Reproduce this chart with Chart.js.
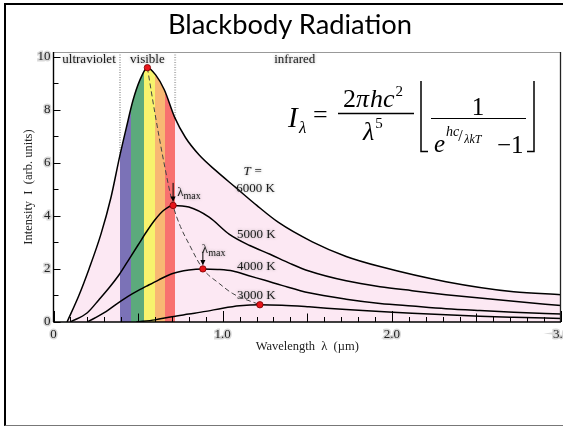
<!DOCTYPE html>
<html><head><meta charset="utf-8">
<script src="https://cdn.jsdelivr.net/npm/chart.js@4.4.0/dist/chart.umd.min.js"></script>
<style>
html,body{margin:0;padding:0;width:563px;height:426px;overflow:hidden;background:#fff;}
#c{position:absolute;left:0;top:0;z-index:1;}
#frame{position:absolute;left:4px;top:3px;width:620px;height:420px;border-left:2px solid #000;border-top:2px solid #000;border-bottom:1px solid #777;pointer-events:none;z-index:2;}
#title{position:absolute;left:0;width:580px;text-align:center;top:10px;font-family:Lato,"Open Sans",sans-serif;font-size:28px;line-height:1;color:#000;z-index:3;white-space:nowrap;}
</style></head><body>
<div id="title">Blackbody Radiation</div>
<canvas id="c" width="600" height="426"></canvas>
<div id="frame"></div>
<script>
// ---------- data ----------
const wavelength6000 = [0.08, 0.15, 0.21, 0.28, 0.34, 0.39, 0.43, 0.47, 0.51, 0.555, 0.605, 0.655, 0.717, 0.78, 0.86, 0.96, 1.08, 1.20, 1.33, 1.53, 1.73, 1.93, 2.32, 2.72, 3.0];
const intensity6000  = [0.0, 1.0, 2.0, 3.3, 4.7, 6.2, 7.3, 8.35, 9.1, 9.58, 9.3, 8.75, 7.7, 6.95, 6.3, 5.7, 5.05, 4.4, 3.75, 3.02, 2.47, 2.09, 1.52, 1.14, 1.03];

const wavelength5000 = [0.10, 0.20, 0.27, 0.33, 0.39, 0.45, 0.50, 0.55, 0.60, 0.65, 0.707, 0.80, 0.92, 1.04, 1.16, 1.28, 1.40, 1.51, 1.73, 1.93, 2.12, 2.32, 2.52, 2.72, 3.0];
const intensity5000  = [0.0, 0.35, 0.85, 1.3, 1.8, 2.4, 2.9, 3.4, 3.85, 4.2, 4.39, 4.33, 3.95, 3.3, 2.88, 2.55, 2.2, 1.92, 1.55, 1.33, 1.18, 1.03, 0.9, 0.78, 0.62];

const wavelength4000 = [0.20, 0.30, 0.40, 0.47, 0.55, 0.62, 0.70, 0.80, 0.883, 0.97, 1.06, 1.15, 1.25, 1.35, 1.51, 1.73, 1.93, 2.12, 2.32, 2.52, 2.72, 3.0];
const intensity4000  = [0.0, 0.35, 0.8, 1.08, 1.35, 1.58, 1.82, 1.96, 2.0, 1.98, 1.92, 1.75, 1.57, 1.38, 1.1, 0.86, 0.7, 0.6, 0.5, 0.43, 0.37, 0.3];

const wavelength3000 = [0.49, 0.60, 0.70, 0.80, 0.90, 1.00, 1.10, 1.22, 1.35, 1.51, 1.73, 1.93, 2.12, 2.32, 2.52, 2.72, 3.0];
const intensity3000  = [0.0, 0.08, 0.2, 0.3, 0.4, 0.52, 0.61, 0.65, 0.63, 0.57, 0.47, 0.4, 0.33, 0.27, 0.22, 0.18, 0.13];

const wienWavelength = [0.555, 0.60, 0.65, 0.707, 0.75, 0.80, 0.883, 0.98, 1.06, 1.22];
const wienIntensity  = [9.58, 7.85, 6.1, 4.39, 3.6, 2.95, 2.0, 1.45, 1.07, 0.65];

const peakWavelength = [0.555, 0.707, 0.883, 1.22];
const peakIntensity  = [9.58, 4.39, 2.0, 0.65];

const bandEdges  = [0.393, 0.459, 0.537, 0.598, 0.658, 0.719];
const bandColors = ['#7b72b7', '#5caa7c', '#f7f36d', '#f8b873', '#f8716f'];
const fillPink = '#fce8f3';

const regionNames = ['ultraviolet', 'visible', 'infrared'];
const regionCenters = [0.21, 0.555, 1.426];
const regionBoundaries = [0.393, 0.719];

const curveNames = ['6000 K', '5000 K', '4000 K', '3000 K'];
const curveLabelX = [1.08, 1.085, 1.085, 1.085];
const curveLabelY = [5.01, 3.28, 2.08, 0.98];

const xTickStep = 1, xMinorStep = 0.1;
const yTickStep = 2, yMinorStep = 1;
// --------------------------------------------------

(function fitTitle(){
  const el = document.getElementById('title');
  const c = document.createElement('canvas').getContext('2d');
  c.font = '100px Lato';
  const m = c.measureText(el.textContent);
  const size = 100 * 245 / m.width;
  el.style.fontSize = size + 'px';
  const asc = (m.fontBoundingBoxAscent || 98.7) * size / 100;
  const desc = (m.fontBoundingBoxDescent || 21.3) * size / 100;
  const base = (size - (asc + desc)) / 2 + asc;
  el.style.top = (34.5 - base) + 'px';
})();

const pts = (xs, ys) => xs.map((x, i) => ({x: x, y: ys[i]}));
const SERIF = '"Liberation Serif", "Times New Roman", serif';

function bandFill(context) {
  const chart = context.chart;
  const a = chart.chartArea;
  if (!a) return fillPink;
  const xs = chart.scales.x;
  const off = v => Math.min(1, Math.max(0, (xs.getPixelForValue(v) - a.left) / (a.right - a.left)));
  const g = chart.ctx.createLinearGradient(a.left, 0, a.right, 0);
  g.addColorStop(0, fillPink);
  g.addColorStop(off(bandEdges[0]), fillPink);
  for (let i = 0; i < bandColors.length; i++) {
    g.addColorStop(off(bandEdges[i]), bandColors[i]);
    g.addColorStop(off(bandEdges[i + 1]), bandColors[i]);
  }
  g.addColorStop(off(bandEdges[bandEdges.length - 1]), fillPink);
  g.addColorStop(1, fillPink);
  return g;
}

function haloText(ctx, text, x, y, size, opts) {
  opts = opts || {};
  ctx.save();
  ctx.font = (opts.italic ? 'italic ' : '') + size + 'px ' + SERIF;
  ctx.textAlign = opts.align || 'left';
  ctx.textBaseline = opts.baseline || 'middle';
  ctx.shadowColor = 'rgba(110,110,110,0.6)';
  ctx.shadowBlur = 3;
  ctx.fillStyle = '#1a1a1a';
  ctx.fillText(text, x, y);
  const w = ctx.measureText(text).width;
  ctx.restore();
  return w;
}

function seg(ctx, x1, y1, x2, y2) { ctx.beginPath(); ctx.moveTo(x1, y1); ctx.lineTo(x2, y2); ctx.stroke(); }

const decor = {
  id: 'decor',
  beforeDraw(chart) {
    const {ctx, chartArea: a, scales: {x}} = chart;
    ctx.save();
    ctx.strokeStyle = 'rgba(150,150,150,0.7)';
    ctx.lineWidth = 2;
    ctx.setLineDash([1, 1.5]);
    regionBoundaries.forEach(v => { const px = x.getPixelForValue(v); seg(ctx, px, a.top, px, a.bottom); });
    ctx.restore();
  },
  afterDatasetsDraw(chart) {
    const {ctx, chartArea: a, scales: {x, y}} = chart;
    ctx.save();
    ctx.strokeStyle = '#999'; ctx.lineWidth = 1;
    seg(ctx, a.left, a.top + 0.5, a.right, a.top + 0.5);
    ctx.strokeStyle = '#222'; ctx.lineWidth = 1.3;
    seg(ctx, a.right - 0.5, a.top, a.right - 0.5, a.bottom);
    ctx.strokeStyle = '#000'; ctx.lineWidth = 1.4;
    seg(ctx, a.left, a.bottom, a.right, a.bottom);
    seg(ctx, a.left, a.top, a.left, a.bottom);
    ctx.lineWidth = 1;
    const nx = Math.round((x.max - x.min) / xMinorStep);
    for (let k = 0; k <= nx; k++) {
      const v = x.min + k * xMinorStep;
      const px = Math.round(x.getPixelForValue(v)) + 0.5;
      const len = (k % 10 === 0) ? 11 : (k % 5 === 0 ? 8.5 : 5);
      seg(ctx, px, a.bottom, px, a.bottom - len);
    }
    for (let v = 0; v <= 10; v += yMinorStep) {
      const py = Math.round(y.getPixelForValue(v)) + 0.5;
      const len = (v % yTickStep === 0) ? 7 : 5;
      seg(ctx, a.left, py, a.left + len, py);
    }
    ctx.restore();

    regionNames.forEach((t, i) => haloText(ctx, t, x.getPixelForValue(regionCenters[i]), y.getPixelForValue(9.89), 13, {align: 'center'}));
    haloText(ctx, 'T', x.getPixelForValue(1.18) - 6, y.getPixelForValue(5.66), 13, {align: 'center', italic: true});
    haloText(ctx, '=', x.getPixelForValue(1.18) + 5, y.getPixelForValue(5.66), 13, {align: 'center'});
    curveNames.forEach((t, i) => haloText(ctx, t, x.getPixelForValue(curveLabelX[i]), y.getPixelForValue(curveLabelY[i]), 13));
    const arrows = [
      {peak: 1, textX: 0.731, textY: 4.86, from: 5.24},
      {peak: 2, textX: 0.877, textY: 2.71, from: 2.64}
    ];
    arrows.forEach(ar => {
      const px = x.getPixelForValue(peakWavelength[ar.peak]);
      const py = y.getPixelForValue(peakIntensity[ar.peak]);
      const top = y.getPixelForValue(ar.from);
      ctx.save();
      ctx.strokeStyle = '#000'; ctx.fillStyle = '#000'; ctx.lineWidth = 1;
      seg(ctx, px, top, px, py - 8);
      ctx.beginPath(); ctx.moveTo(px - 2.5, py - 9); ctx.lineTo(px + 2.5, py - 9); ctx.lineTo(px, py - 3.5); ctx.closePath(); ctx.fill();
      ctx.restore();
      const tx = x.getPixelForValue(ar.textX), ty = y.getPixelForValue(ar.textY);
      const w = haloText(ctx, 'λ', tx, ty, 13);
      haloText(ctx, 'max', tx + w, ty + 3, 10);
    });
  },
  afterDraw(chart) {
    const ctx = chart.ctx;
    ctx.save();
    ctx.fillStyle = '#000'; ctx.strokeStyle = '#000';
    ctx.textBaseline = 'alphabetic'; ctx.textAlign = 'left';
    const t = (s, px, py, sz, it) => { ctx.font = (it ? 'italic ' : '') + sz + 'px ' + SERIF; ctx.fillText(s, px, py); return px + ctx.measureText(s).width; };
    t('I', 288, 127, 29, true); t('λ', 299, 133, 17, true);
    t('=', 313, 123, 26, false);
    let px = t('2', 343, 107, 26, false); px = t('π', px, 107, 26, true); px = t('hc', px + 1, 107, 26, true); t('2', px + 1, 96, 15, false);
    ctx.lineWidth = 1.3; seg(ctx, 338, 113.5, 414, 113.5);
    px = t('λ', 363, 140, 26, true); t('5', px + 1, 128, 15, false);
    ctx.lineWidth = 1.5;
    ctx.beginPath(); ctx.moveTo(421, 81); ctx.lineTo(421, 151.5); ctx.lineTo(428, 151.5); ctx.stroke();
    ctx.beginPath(); ctx.moveTo(534, 81); ctx.lineTo(534, 151.5); ctx.lineTo(527, 151.5); ctx.stroke();
    ctx.textAlign = 'center'; t('1', 478, 115, 25, false); ctx.textAlign = 'left';
    ctx.lineWidth = 1.2; seg(ctx, 431, 118.5, 526, 118.5);
    t('e', 434, 152, 25, true);
    px = t('hc', 446, 136, 14, true); t('/', px - 1, 141, 16, false); t('λkT', px + 5, 143, 12, true);
    t('−1', 497, 153, 25, false);
    ctx.restore();
  }
};

const lineBase = {borderColor: '#000', borderWidth: 1.5, pointRadius: 0, fill: false, cubicInterpolationMode: 'monotone'};

new Chart(document.getElementById('c'), {
  type: 'line',
  data: {
    datasets: [
      Object.assign({}, lineBase, {label: '6000 K', data: pts(wavelength6000, intensity6000), fill: 'origin', backgroundColor: bandFill, order: 5}),
      Object.assign({}, lineBase, {label: '5000 K', data: pts(wavelength5000, intensity5000), order: 4}),
      Object.assign({}, lineBase, {label: '4000 K', data: pts(wavelength4000, intensity4000), order: 3}),
      Object.assign({}, lineBase, {label: '3000 K', data: pts(wavelength3000, intensity3000), order: 2}),
      Object.assign({}, lineBase, {label: 'λmax', data: pts(wienWavelength, wienIntensity), borderColor: '#444', borderWidth: 1, borderDash: [5, 3], order: 1}),
      {label: 'peaks', data: pts(peakWavelength, peakIntensity), showLine: false, pointRadius: 3.2, pointBackgroundColor: '#e8151b', pointBorderColor: '#7a0000', pointBorderWidth: 0.8, order: 0}
    ]
  },
  options: {
    responsive: false, animation: false, devicePixelRatio: 1, events: [],
    layout: {padding: {left: 0, right: 39, top: 52, bottom: 71.5}},
    plugins: {legend: {display: false}, tooltip: {enabled: false}, filler: {drawTime: 'beforeDatasetsDraw'}},
    scales: {
      x: {
        type: 'linear', position: 'bottom', min: 0, max: 3,
        afterFit: s => { s.height = 32.5; },
        grid: {display: false, drawTicks: false}, border: {display: false},
        ticks: {stepSize: xTickStep, includeBounds: false, autoSkip: false, maxRotation: 0, padding: 5, color: '#222',
          font: {family: SERIF, size: 13}, textStrokeColor: 'rgba(170,170,170,0.45)', textStrokeWidth: 3,
          callback: v => v === 0 ? '0' : Number(v).toFixed(1)},
        title: {display: true, text: 'Wavelength  λ  (µm)', color: '#222', font: {family: SERIF, size: 12.5}, padding: {top: 0, bottom: 0}}
      },
      y: {
        type: 'linear', min: 0, max: 10.17,
        afterFit: s => { s.width = 53.5; },
        grid: {display: false, drawTicks: false}, border: {display: false},
        ticks: {stepSize: yTickStep, includeBounds: false, padding: 3, color: '#222',
          font: {family: SERIF, size: 13}, textStrokeColor: 'rgba(170,170,170,0.45)', textStrokeWidth: 3},
        title: {display: true, text: 'Intensity  I  (arb. units)', color: '#222', font: {family: SERIF, size: 12.5}, padding: {top: 21.5, bottom: 0}}
      }
    }
  },
  plugins: [decor]
});
</script>
</body></html>
